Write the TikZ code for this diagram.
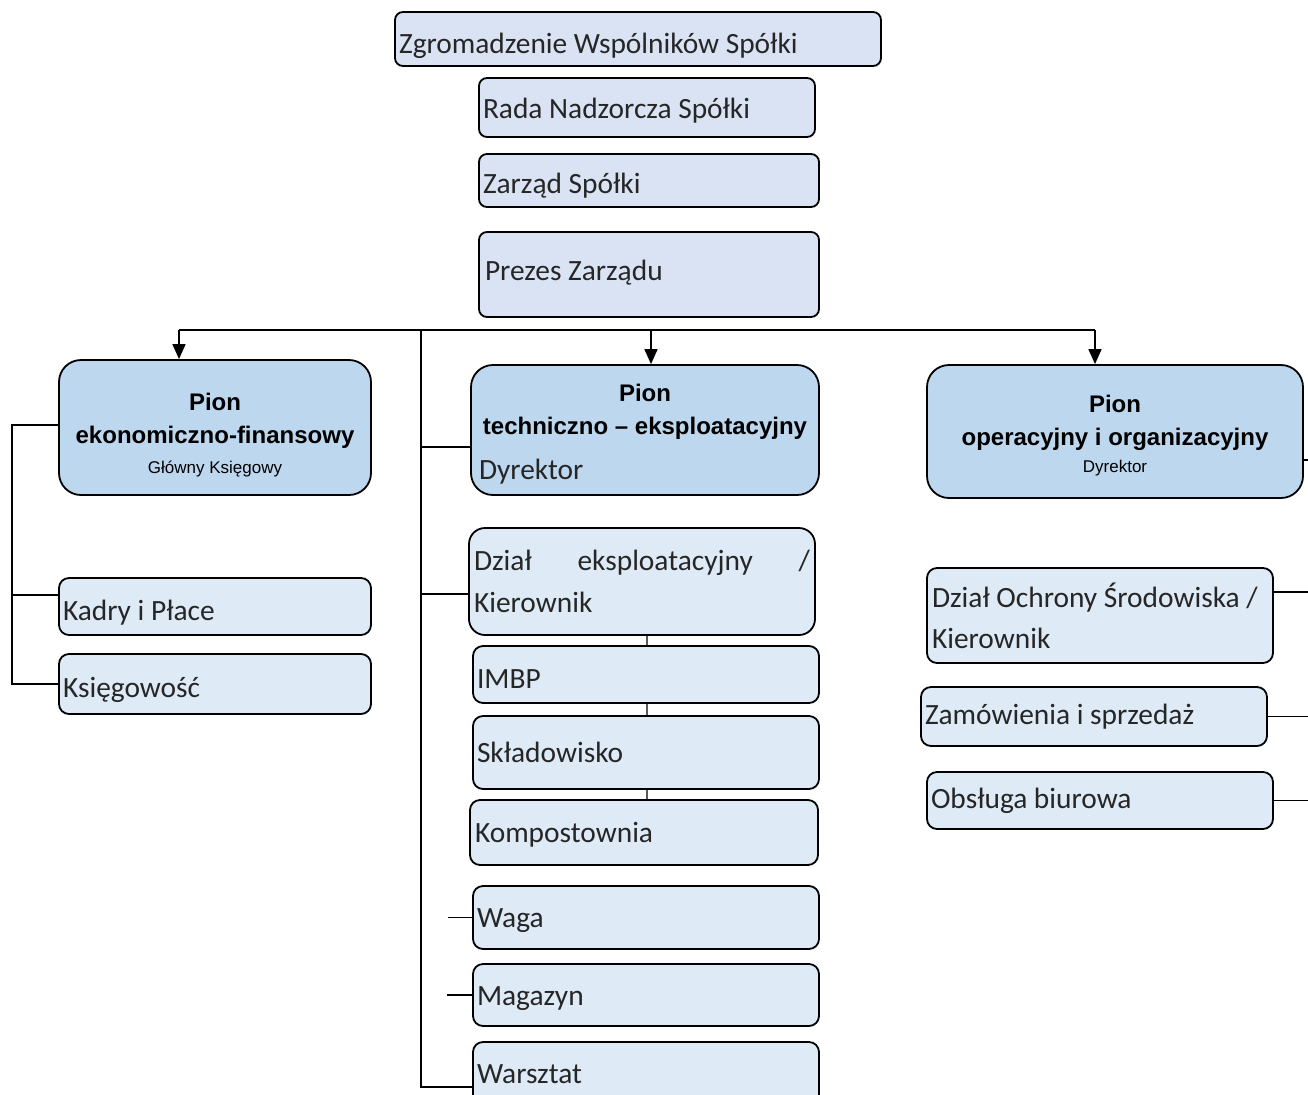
\documentclass[tikz,border=0pt]{standalone}
\usepackage{fontspec}
\setmainfont{Carlito}
\newfontfamily\arialfont{Liberation Sans}
\usetikzlibrary{arrows.meta}
\definecolor{topfill}{RGB}{218,227,243}
\definecolor{pionfill}{RGB}{189,215,238}
\definecolor{subfill}{RGB}{222,234,246}
\definecolor{txtgray}{RGB}{38,38,38}

\begin{document}
\begin{tikzpicture}[x=0.5pt,y=-0.5pt]
    \tikzstyle{every path}=[line width=0.8pt]
    \tikzstyle{topbox}=[draw, line width=0.9pt, rounded corners=4pt, fill=topfill, text=txtgray, inner xsep=2pt, inner ysep=0pt, align=flush left, font=\fontsize{14.7}{17}\selectfont]
    \tikzstyle{pionbox}=[draw, line width=0.9pt, rounded corners=11pt, fill=pionfill, inner xsep=3pt, inner ysep=0pt, align=flush center, font=\arialfont\bfseries]
    \tikzstyle{subbox}=[draw, line width=0.9pt, rounded corners=5pt, fill=subfill, text=txtgray, inner xsep=2pt, inner ysep=0pt, align=flush left, font=\fontsize{14.7}{21}\selectfont]
    \tikzstyle{txtlow}=[text height=#1, text depth=0pt]
    \tikzstyle{branch}=[-{Triangle[width=6.5pt,length=7.5pt]}]
    \tikzstyle{link}=[line width=0.6pt, gray!70!black]

    \useasboundingbox (0,0) rectangle (1308,1094);

    % management
    \node[topbox, txtlow=14pt, text width=239pt, minimum height=27pt] (zgrom) at (638,39) {Zgromadzenie Wspólników Spółki};
    \node[topbox, txtlow=10.5pt, text width=164pt, minimum height=29.5pt] (rada) at (647,107.5) {Rada Nadzorcza Spółki};
    \node[topbox, txtlow=12.5pt, text width=166pt, minimum height=26.5pt] (zarzad) at (649,180.5) {Zarząd Spółki};
    \node[topbox, txtlow=5.5pt, text width=164pt, minimum height=42.5pt, inner xsep=3pt] (prezes) at (649,274.5) {Prezes Zarządu};

    % divisions
    \node[pionbox, text width=150pt, minimum height=67.5pt] (pekon) at (215,427.5)
        {\fontsize{12}{16.5}\selectfont\rule{0pt}{16pt}Pion\par ekonomiczno-finansowy\par
         \fontsize{8.5}{15}\selectfont\mdseries Główny Księgowy\par};
    \node[pionbox, text width=168pt, minimum height=65pt] (ptech) at (645,430)
        {\fontsize{12}{16.5}\selectfont\rule{0pt}{13pt}Pion\par techniczno – eksploatacyjny\par
         \raggedright\rmfamily\mdseries\color{txtgray}\fontsize{14.7}{22.5}\selectfont\hspace*{1pt}Dyrektor\par};
    \node[pionbox, text width=182pt, minimum height=66.5pt] (poper) at (1115,431.5)
        {\fontsize{12}{16.5}\selectfont\rule{0pt}{13pt}Pion\par operacyjny i organizacyjny\par
         \fontsize{8.5}{13.3}\selectfont\mdseries Dyrektor\par};

    % economic units
    \node[subbox, txtlow=13.5pt, text width=152pt, minimum height=28.5pt] (kadry) at (215,606.5) {Kadry i Płace};
    \node[subbox, txtlow=13pt, text width=152pt, minimum height=30pt] (ksieg) at (215,684) {Księgowość};

    % technical units
    \node[subbox, text width=168pt, minimum height=53.5pt, rounded corners=8pt, inner xsep=2.5pt] (dzeks) at (642,581.5)
        {Dział\hfill eksploatacyjny\hfill /\\Kierownik};
    \node[subbox, txtlow=13.5pt, text width=169pt, minimum height=28.5pt] (imbp) at (646,674.5) {IMBP};
    \node[subbox, text width=169pt, minimum height=36.5pt] (sklad) at (646,752.5) {Składowisko};
    \node[subbox, txtlow=9.5pt, text width=169pt, minimum height=32.5pt, inner xsep=2.5pt] (kompost) at (644,832.5) {Kompostownia};
    \node[subbox, txtlow=9.5pt, text width=169pt, minimum height=31.5pt] (waga) at (646,917.5) {Waga};
    \node[subbox, txtlow=10pt, text width=169pt, minimum height=31pt] (magazyn) at (646,995) {Magazyn};
    \node[subbox, txtlow=7pt, text width=169pt, minimum height=34pt] (warsztat) at (646,1076) {Warsztat};

    % operational units
    \node[subbox, text width=168pt, minimum height=47.5pt, inner xsep=2.5pt, font=\fontsize{14.7}{20.5}\selectfont] (dzochr) at (1100,615.5)
        {Dział Ochrony Środowiska /\\Kierownik};
    \node[subbox, text width=169pt, minimum height=29.5pt] (zamow) at (1094,716.5) {Zamówienia i sprzedaż};
    \node[subbox, text width=169pt, minimum height=28.5pt] (obsl) at (1100,800.5) {Obsługa biurowa};

    % bus points
    \coordinate (barL) at (179,330);
    \coordinate (barM) at (651,330);
    \coordinate (barR) at (1095,330);
    \coordinate (bustop) at (421,330);
    \coordinate (busbot) at (421,1087);
    \coordinate (lbus) at (12,425);
    \coordinate (chain) at (647,640);
    \coordinate (redge) at (1308,330);

    % arrows to divisions
    \draw (barL) -- (barR);
    \draw[branch] (barL) -- (barL |- pekon.north);
    \draw[branch] (barM) -- (barM |- ptech.north);
    \draw[branch] (barR) -- (barR |- poper.north);

    % left bracket
    \draw (pekon.west |- lbus) -- (lbus) |- (ksieg.west);
    \draw ([yshift=5.75pt]kadry.west) -- ([yshift=5.75pt]kadry.west -| lbus);

    % middle bus
    \draw (bustop) -- (busbot) -- ([yshift=-5.5pt]warsztat.west);
    \draw ([yshift=-8.5pt]ptech.west) -- ([yshift=-8.5pt]ptech.west -| bustop);
    \draw ([yshift=-6.25pt]dzeks.west) -- ([yshift=-6.25pt]dzeks.west -| bustop);
    \draw (waga.west) -- ++(-24,0);
    \draw (magazyn.west) -- ++(-25,0);

    % technical chain
    \draw[link] (imbp.north -| chain) -- (dzeks.south -| chain);
    \draw[link] (sklad.north -| chain) -- (imbp.south -| chain);
    \draw[link] (kompost.north -| chain) -- (sklad.south -| chain);

    % right stubs
    \draw ([yshift=-14.25pt]poper.east) -- ([yshift=-14.25pt]poper.east -| redge);
    \draw ([yshift=11.75pt]dzochr.east) -- ([yshift=11.75pt]dzochr.east -| redge);
    \draw (zamow.east) -- (zamow.east -| redge);
    \draw (obsl.east) -- (obsl.east -| redge);

\end{tikzpicture}
\end{document}
